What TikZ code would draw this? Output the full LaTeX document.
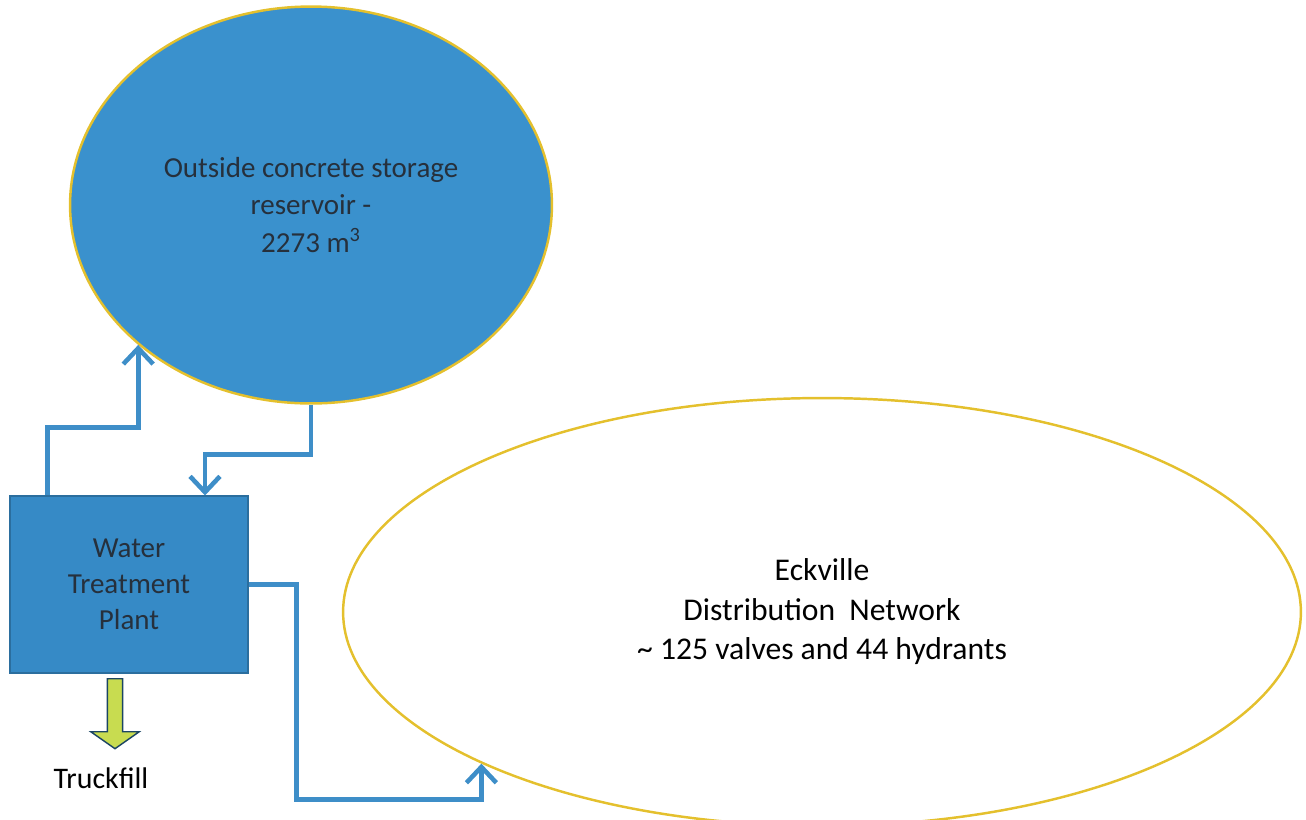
\documentclass[tikz,border=0pt]{standalone}
\usepackage{fontspec}
\setmainfont{Carlito}
\usetikzlibrary{arrows.meta, shapes.geometric, shapes.arrows, positioning}

\definecolor{tankblue}{RGB}{58,145,205}
\definecolor{boxblue}{RGB}{54,138,198}
\definecolor{pipeblue}{RGB}{62,142,200}
\definecolor{rimgold}{RGB}{228,192,45}
\definecolor{inkgrey}{RGB}{38,48,60}
\definecolor{limefill}{RGB}{200,220,80}

\begin{document}
\begin{tikzpicture}[x=0.02cm, y=-0.02cm, % one unit per pixel of the sheet
    tank/.style={ellipse, draw=rimgold, line width=1.4pt, inner sep=0pt, align=center},
    plantbox/.style={rectangle, draw=boxblue!80!black, fill=boxblue, line width=0.6pt, minimum width=4.76cm, minimum height=3.54cm, align=center, text=inkgrey, font=\fontsize{16.5}{20.5}\selectfont},
    pipe/.style={draw=pipeblue, line width=2.6pt, -{Straight Barb[length=9pt, width=17pt]}},
    fillarrow/.style={single arrow, draw=boxblue!50!black, fill=limefill, line width=0.8pt, inner sep=0.14cm, single arrow head extend=0.33cm, single arrow tip angle=110, minimum height=1.4cm, rotate=-90}]
    % Page size
    \useasboundingbox (0,0) rectangle (1306,819);
    % Storage reservoir, plant and network
    \node[tank, fill=tankblue, text=inkgrey, minimum width=9.64cm, minimum height=7.94cm, font=\fontsize{16.5}{21.5}\selectfont] (reservoir) at (311,205)
        {Outside concrete storage\\reservoir -\\2273 m\textsuperscript{3}};
    \node[plantbox] (plant) at (129,584.5) {Water\\Treatment\\Plant};
    \node[tank, fill=white, minimum width=19.16cm, minimum height=8.56cm, font=\fontsize{18}{22.5}\selectfont] (network) at (822,612)
        {Eckville\\Distribution\ \ Network\\\textasciitilde\ 125 valves and 44 hydrants};
    % Truckfill outlet
    \node[fillarrow] (outlet) at (115,711) {};
    \node[font=\fontsize{17}{20}\selectfont] (truck) at (101,778) {Truckfill};
    % Pipes
    \draw[pipe] ([shift={(38,0)}]plant.north west) -- ++(0,-68) -| (reservoir.219);
    \draw[pipe] (reservoir.south) -- ++(0,50) -| ([shift={(76,0)}]plant.north);
    \draw[pipe] (plant.east) -- ++(48,0) -- ++(0,215) -| (network.204);
\end{tikzpicture}
\end{document}
